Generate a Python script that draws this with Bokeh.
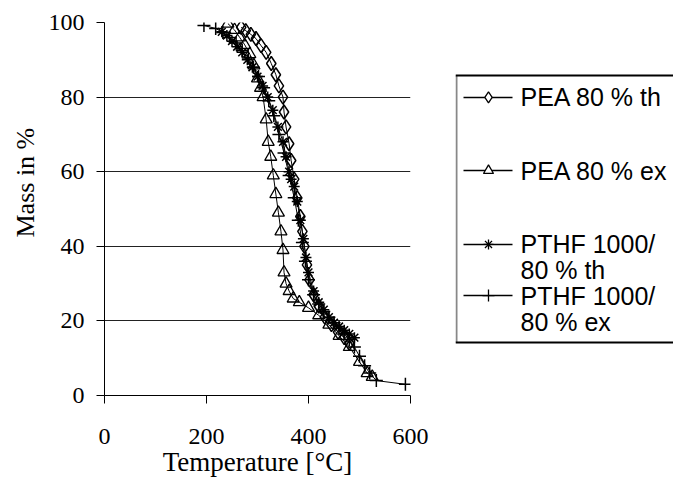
from bokeh.plotting import figure
from bokeh.layouts import row
from bokeh.models import Range1d, FixedTicker, Title
from bokeh.core.properties import value
from bokeh.embed import file_html
from bokeh.resources import INLINE

# ---- data ----
pea_th_T = [268, 277, 287, 297, 307, 317, 327, 336, 342, 350, 352, 356, 362, 366, 372, 378, 384, 388, 392, 397, 402, 410, 420, 432, 445, 458, 470, 480]
pea_th_M = [98.7, 97.8, 96.8, 95.7, 93.8, 92, 89, 86, 83, 80, 76, 72, 67.5, 63, 58, 53, 48, 44, 40, 35, 31, 27, 24, 21, 19, 17, 15.5, 14]

pea_ex_T = [242, 255, 265, 275, 285, 293, 300, 306, 311, 317, 321, 326, 331, 336, 341, 346, 350, 352, 356, 362, 370, 382, 400, 420, 440, 460, 480, 500, 515, 525]
pea_ex_M = [99.7, 98, 96, 94, 91.5, 88.5, 85, 82.5, 80, 74, 68, 64, 59, 54, 49, 44, 39, 33, 30, 28, 26, 25, 23.5, 21.5, 19, 16, 13, 9, 6, 5]

pthf_th_T = [230, 240, 250, 260, 270, 280, 290, 300, 310, 320, 330, 340, 350, 356, 362, 366, 372, 378, 384, 390, 395, 400, 410, 420, 430, 440, 450, 460, 470, 480, 490]
pthf_th_M = [97.5, 96.5, 95, 93.5, 92, 90, 88, 85.5, 83, 80, 76.5, 72, 68, 64, 60, 58, 56, 52, 47, 42, 37, 33, 28, 25, 23, 21, 19.5, 18.5, 17.5, 16.5, 15.5]

pthf_ex_T = [195, 218, 232, 245, 258, 270, 282, 292, 302, 312, 322, 332, 342, 352, 362, 372, 380, 388, 394, 400, 410, 420, 430, 440, 450, 460, 470, 480, 490, 500, 510, 520, 533, 590]
pthf_ex_M = [99.2, 98.4, 97.3, 96, 94.5, 92.5, 90.5, 88, 85.5, 82.5, 79, 75, 70, 65, 59, 53, 47, 41, 36, 31, 27, 24.5, 22.5, 21, 19.5, 18, 16.5, 15, 13, 10.5, 8, 6, 4, 3]

x_ticks = [0, 200, 400, 600]
y_ticks = [0, 20, 40, 60, 80, 100]
grid_ticks = [20, 40, 60, 80]

legend_lines = ["PEA 80 % th", "PEA 80 % ex", "PTHF 1000/", "80 % th", "PTHF 1000/", "80 % ex"]

SERIF = "Liberation Serif"
SANS = "Liberation Sans"

H = 484
TOP = 22
BOTTOM = H - 395

p = figure(width=455, height=H, x_range=Range1d(0, 600), y_range=Range1d(0, 100),
           output_backend="svg", toolbar_location=None,
           min_border_left=104, min_border_right=45, min_border_top=TOP, min_border_bottom=BOTTOM)
p.outline_line_color = None
p.background_fill_color = "white"
p.border_fill_color = "white"

p.xgrid.visible = False
p.ygrid.ticker = FixedTicker(ticks=grid_ticks)
p.ygrid.grid_line_color = "#222222"
p.ygrid.grid_line_width = 1

for ax in (p.xaxis[0], p.yaxis[0]):
    ax.axis_line_color = "black"
    ax.major_tick_line_color = "black"
    ax.minor_tick_line_color = None
    ax.major_tick_in = 0
    ax.major_tick_out = 8
    ax.major_label_text_font = SERIF
    ax.major_label_text_font_size = "24px"
    ax.major_label_text_color = "black"
p.xaxis.ticker = FixedTicker(ticks=x_ticks)
p.yaxis.ticker = FixedTicker(ticks=y_ticks)
p.xaxis.major_label_standoff = 25
p.yaxis.major_label_standoff = 12

p.xaxis.axis_label = "Temperature [°C]"
p.xaxis.axis_label_text_font = SERIF
p.xaxis.axis_label_text_font_size = "27px"
p.xaxis.axis_label_text_font_style = "normal"
p.xaxis.axis_label_text_color = "black"
p.xaxis.axis_label_standoff = 0

p.add_layout(Title(text="Mass in %", align="left", offset=158, text_font=SERIF,
                   text_font_size="26px", text_font_style="normal", text_color="#000000",
                   standoff=12), "left")

# lines + markers
p.line(pea_th_T, pea_th_M, line_color="black", line_width=1)
p.scatter(pea_th_T, pea_th_M, marker="diamond", size=14, fill_color=None, line_color="black", line_width=1.5)

p.line(pea_ex_T, pea_ex_M, line_color="black", line_width=1)
p.scatter(pea_ex_T, pea_ex_M, marker="triangle", size=12, fill_color=None, line_color="black", line_width=1.3)

p.line(pthf_th_T, pthf_th_M, line_color="black", line_width=1)
p.scatter(pthf_th_T, pthf_th_M, marker="asterisk", size=11, line_color="black", line_width=1.5)

p.line(pthf_ex_T, pthf_ex_M, line_color="black", line_width=1)
p.scatter(pthf_ex_T, pthf_ex_M, marker="cross", size=13, line_color="black", line_width=1.5)

# ---- legend panel (shares vertical frame with main plot) ----
LW = 218
L = figure(width=LW, height=H, x_range=Range1d(0, LW), y_range=Range1d(0, 100),
           output_backend="svg", toolbar_location=None,
           min_border_left=0, min_border_right=0, min_border_top=TOP, min_border_bottom=BOTTOM)
L.axis.visible = False
L.grid.visible = False
L.outline_line_color = None

box_top, box_bottom = 85.8, 14.2
L.segment(x0=[1], y0=[box_top], x1=[1], y1=[box_bottom], line_color="#888888", line_width=2)
L.segment(x0=[0, 0], y0=[box_top, box_bottom], x1=[LW, LW], y1=[box_top, box_bottom],
          line_color="black", line_width=2)

markers = ["diamond", "triangle", "asterisk", "cross"]
msizes = [11, 10, 10, 12]
sym_y = [79.9, 60.3, 40.5, 26.8]
for mk, ms, yy in zip(markers, msizes, sym_y):
    L.segment(x0=[8], y0=[yy], x1=[57], y1=[yy], line_color="black", line_width=1.5)
    L.scatter([33], [yy], marker=mk, size=ms, fill_color="white", line_color="black", line_width=1.3)

text_y = [79.9, 60.3, 40.5, 33.6, 26.8, 19.8]
L.text(x=[65] * len(legend_lines), y=text_y, text=legend_lines,
       text_font=value(SANS), text_font_size="25px", text_align="left", text_baseline="middle",
       text_color="black")

layout = row(p, L, spacing=0)
open("out.html", "w").write(file_html(layout, INLINE))
